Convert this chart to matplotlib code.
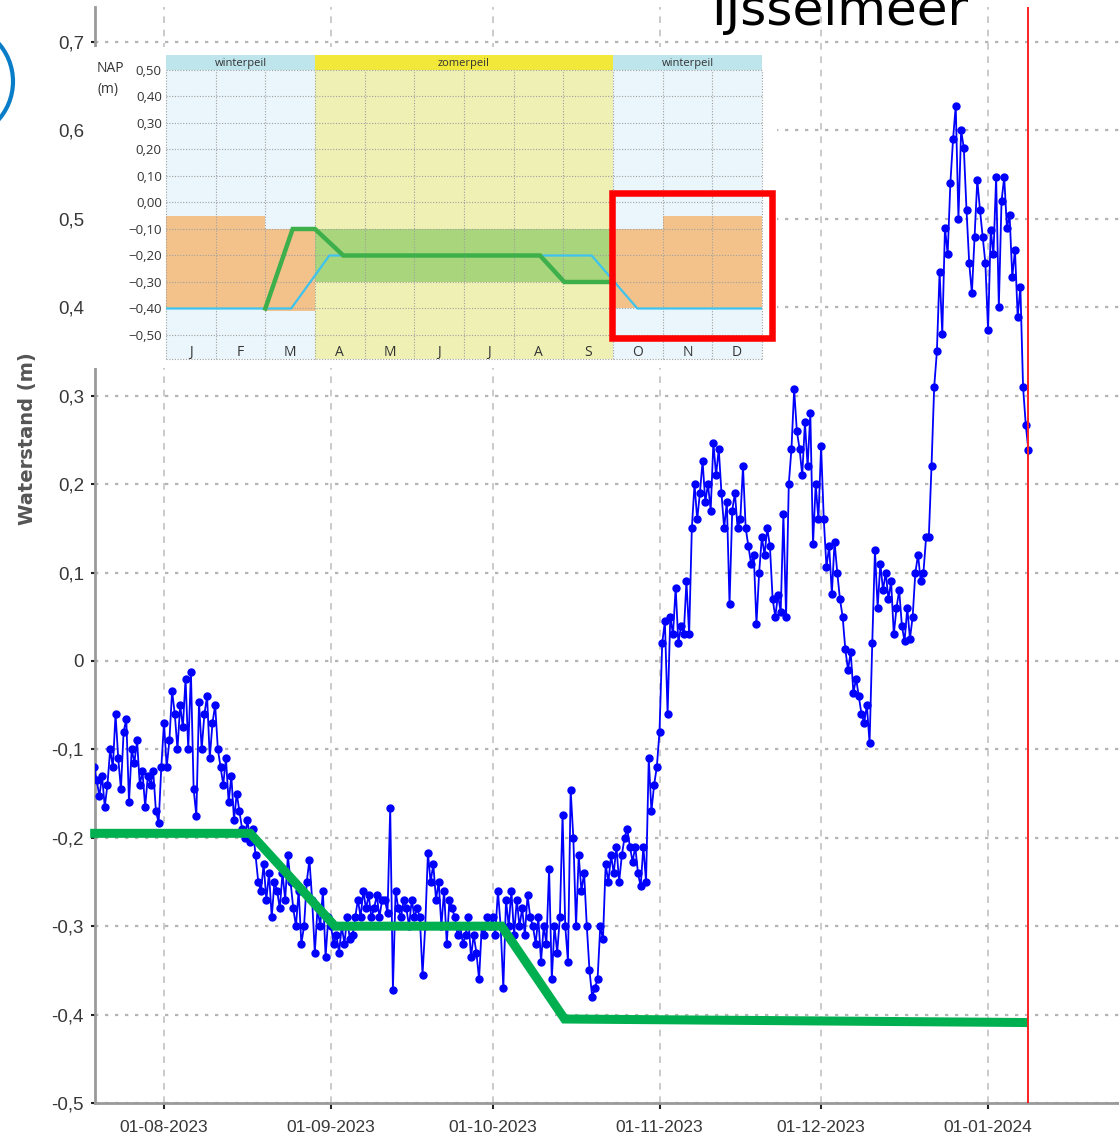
import numpy as np
import pandas as pd
import matplotlib
matplotlib.use('Agg')
import matplotlib.pyplot as plt
import matplotlib.dates as mdates
from matplotlib import font_manager as fm
from matplotlib.patches import Rectangle, Ellipse
from matplotlib.ticker import FuncFormatter

# smalle letter voor de aslabels als die er is, anders Liberation Sans
namen = {f.name for f in fm.fontManager.ttflist}
if 'Liberation Sans Narrow' in namen:
    AS_FONT, Y_SIZE, X_SIZE = 'Liberation Sans Narrow', 15, 14.5
else:
    AS_FONT, Y_SIZE, X_SIZE = 'Liberation Sans', 13.5, 12.5
plt.rcParams['font.family'] = [AS_FONT, 'DejaVu Sans']

W, H = 1119, 1143

# ---- gemeten waterstand IJsselmeer (m NAP), 2 waarden per dag vanaf 19-07-2023
jul = [-0.12, -0.135, -0.153, -0.13, -0.165, -0.14, -0.10, -0.12, -0.06, -0.11,
       -0.145, -0.08, -0.066, -0.16, -0.10, -0.115, -0.09, -0.14, -0.125, -0.165,
       -0.13, -0.14, -0.125, -0.17, -0.183, -0.12]
aug = [-0.07, -0.12, -0.09, -0.034, -0.06, -0.10, -0.05, -0.075, -0.02, -0.10,
       -0.013, -0.145, -0.175, -0.047, -0.10, -0.06, -0.04, -0.11, -0.07, -0.05,
       -0.10, -0.12, -0.14, -0.11, -0.16, -0.13, -0.18, -0.15, -0.17, -0.19,
       -0.20, -0.18, -0.205, -0.19, -0.22, -0.25, -0.26, -0.23, -0.27, -0.24,
       -0.29, -0.25, -0.26, -0.28, -0.24, -0.27, -0.22, -0.25, -0.28, -0.30,
       -0.26, -0.32, -0.30, -0.25, -0.225, -0.27, -0.33, -0.28, -0.30, -0.26,
       -0.335, -0.29]
sep = [-0.30, -0.32, -0.31, -0.33, -0.30, -0.32, -0.29, -0.315, -0.31, -0.29,
       -0.27, -0.29, -0.26, -0.28, -0.265, -0.29, -0.28, -0.265, -0.29, -0.27,
       -0.27, -0.285, -0.166, -0.372, -0.26, -0.28, -0.29, -0.27, -0.28, -0.30,
       -0.27, -0.29, -0.28, -0.29, -0.355, -0.30, -0.217, -0.25, -0.23, -0.27,
       -0.25, -0.30, -0.26, -0.32, -0.27, -0.28, -0.29, -0.31, -0.30, -0.32,
       -0.31, -0.29, -0.335, -0.31, -0.33, -0.36, -0.30, -0.31, -0.29, -0.30]
okt = [-0.29, -0.31, -0.26, -0.30, -0.37, -0.27, -0.30, -0.26, -0.31, -0.27,
       -0.30, -0.28, -0.31, -0.265, -0.29, -0.30, -0.32, -0.29, -0.34, -0.30,
       -0.32, -0.235, -0.36, -0.30, -0.33, -0.29, -0.174, -0.30, -0.34, -0.146,
       -0.20, -0.30, -0.22, -0.26, -0.24, -0.30, -0.35, -0.38, -0.37, -0.36,
       -0.30, -0.315, -0.23, -0.25, -0.22, -0.24, -0.21, -0.25, -0.22, -0.20,
       -0.19, -0.21, -0.227, -0.21, -0.24, -0.255, -0.21, -0.25, -0.11, -0.17,
       -0.14, -0.12]
nov = [-0.08, 0.02, 0.045, -0.06, 0.05, 0.03, 0.083, 0.02, 0.04, 0.03,
       0.09, 0.03, 0.15, 0.20, 0.16, 0.19, 0.226, 0.18, 0.20, 0.17,
       0.247, 0.21, 0.24, 0.19, 0.15, 0.18, 0.064, 0.17, 0.19, 0.15,
       0.16, 0.22, 0.15, 0.13, 0.11, 0.12, 0.042, 0.10, 0.14, 0.12,
       0.15, 0.13, 0.07, 0.05, 0.075, 0.055, 0.166, 0.05, 0.20, 0.24,
       0.307, 0.26, 0.24, 0.21, 0.27, 0.22, 0.28, 0.132, 0.20, 0.16]
dec = [0.243, 0.16, 0.106, 0.13, 0.076, 0.135, 0.10, 0.07, 0.05, 0.013,
       -0.01, 0.01, -0.036, -0.02, -0.04, -0.06, -0.07, -0.05, -0.093, 0.02,
       0.125, 0.06, 0.11, 0.08, 0.10, 0.07, 0.09, 0.03, 0.06, 0.08,
       0.04, 0.022, 0.06, 0.025, 0.05, 0.10, 0.12, 0.09, 0.10, 0.14,
       0.14, 0.22, 0.31, 0.35, 0.44, 0.37, 0.49, 0.46, 0.54, 0.59,
       0.628, 0.50, 0.60, 0.58, 0.51, 0.45, 0.416, 0.48, 0.544, 0.51,
       0.48, 0.45]
jan = [0.374, 0.487, 0.46, 0.547, 0.40, 0.52, 0.547, 0.49, 0.504, 0.434,
       0.465, 0.389, 0.423, 0.31, 0.267, 0.238]

level = jul + aug + sep + okt + nov + dec + jan
times = pd.date_range('2023-07-19 00:00', periods=len(level), freq='12h')

# streefpeil (groene lijn)
peil_t = pd.to_datetime(['2023-07-18 07:00', '2023-08-17 00:00', '2023-09-01 18:00',
                         '2023-10-02 16:00', '2023-10-14 09:00', '2024-01-08 10:00'])
peil_v = [-0.195, -0.195, -0.30, -0.30, -0.405, -0.409]
vandaag = pd.Timestamp('2024-01-08 10:00')

# ---- inzet: peilbesluit per maand
maanden = ['J', 'F', 'M', 'A', 'M', 'J', 'J', 'A', 'S', 'O', 'N', 'D']
seizoen_x0 = [0, 3, 9]
seizoen_x1 = [3, 9, 12]
seizoen_naam = ['winterpeil', 'zomerpeil', 'winterpeil']
oranje_x0 = [0, 2, 9, 10]
oranje_x1 = [2, 3, 10, 12]
oranje_lo = [-0.40, -0.41, -0.40, -0.40]
oranje_hi = [-0.05, -0.10, -0.10, -0.05]
groen_band = (3, 9, -0.30, -0.10)
inzet_groen_x = [2.0, 2.55, 3.0, 3.57, 7.53, 8.02, 9.0]
inzet_groen_y = [-0.40, -0.10, -0.10, -0.20, -0.20, -0.30, -0.30]
inzet_blauw_x = [0, 2.52, 3.29, 8.57, 9.49, 12]
inzet_blauw_y = [-0.40, -0.40, -0.20, -0.20, -0.40, -0.40]
inzet_niveaus = [0.5, 0.4, 0.3, 0.2, 0.1, 0.0, -0.1, -0.2, -0.3, -0.4, -0.5]


def box(x0, y0, x1, y1):
    # pixel box (top-left origin) -> figure fraction [l, b, w, h]
    return [x0 / W, 1 - y1 / H, (x1 - x0) / W, (y1 - y0) / H]


fig = plt.figure(figsize=(W / 100, H / 100), dpi=100)

# ---- hoofdgrafiek
ax = fig.add_axes(box(95, 7, 1119, 1103))
ax.plot(times, level, color='#0000ff', lw=1.3, marker='o', ms=5,
        mec='#0000ff', mfc='#0000ff', zorder=3)
ax.plot(peil_t, peil_v, color='#00b050', lw=6.5, solid_capstyle='butt',
        solid_joinstyle='miter', zorder=4, clip_on=False)
ax.axvline(vandaag, color='#ff2020', lw=1.4, zorder=5)

ax.set_xlim(pd.Timestamp('2023-07-19 04:30'), pd.Timestamp('2024-01-25 07:30'))
ax.set_ylim(-0.5, 0.7396)
ax.set_yticks(np.round(np.arange(-0.5, 0.71, 0.1), 1))


def komma(v, pos):
    if abs(v) < 1e-9:
        return '0'
    return f'{v:.1f}'.replace('.', ',')


ax.yaxis.set_major_formatter(FuncFormatter(komma))
ax.xaxis.set_major_locator(mdates.MonthLocator(bymonthday=1))
ax.xaxis.set_major_formatter(mdates.DateFormatter('%d-%m-%Y'))
ax.tick_params(axis='y', length=3, width=1.5, pad=5, labelsize=Y_SIZE,
               labelcolor='#383838', color='#222222')
ax.tick_params(axis='x', length=4, width=1.5, pad=8, labelsize=X_SIZE,
               labelcolor='#383838', color='#222222')
ax.grid(axis='y', linestyle=(0, (1.5, 3)), color='#b5b5b5', lw=1.6)
ax.grid(axis='x', linestyle=(0, (4, 4)), color='#c2c2c2', lw=1.2)
for s in ['top', 'right']:
    ax.spines[s].set_visible(False)
for s in ['left', 'bottom']:
    ax.spines[s].set_color('#9a9a9a')
    ax.spines[s].set_linewidth(2)

fig.text(28 / W, 1 - 439 / H, 'Waterstand (m)', rotation=90, ha='center',
         va='center', fontsize=14, fontweight='bold', color='#555555',
         family='DejaVu Sans')
fig.text(840 / W, 1 - 25 / H, 'IJsselmeer', ha='center', va='baseline',
         fontsize=36, color='black', family='DejaVu Sans', zorder=5)

# ---- inzet (witte achtergrond + peilbesluit)
fig.add_artist(Rectangle((88 / W, 1 - 368 / H), (777 - 88) / W, (368 - 47) / H,
                         transform=fig.transFigure, facecolor='white',
                         edgecolor='none', zorder=1))

ins = fig.add_axes(box(166, 55, 762, 359), zorder=2)
y_bot, y_top = -0.5906, 0.5566
ins.set_xlim(0, 12)
ins.set_ylim(y_bot, y_top)
achter = {'winterpeil': '#eaf6fb', 'zomerpeil': '#eef0b4'}
kop = {'winterpeil': '#bee4ec', 'zomerpeil': '#f1e83a'}
for x0, x1, naam in zip(seizoen_x0, seizoen_x1, seizoen_naam):
    ins.add_patch(Rectangle((x0, y_bot), x1 - x0, 0.5 - y_bot,
                            fc=achter[naam], ec='none', zorder=0.5))
    ins.add_patch(Rectangle((x0, 0.5), x1 - x0, y_top - 0.5,
                            fc=kop[naam], ec='none', zorder=0.5))
    ins.text((x0 + x1) / 2, (0.5 + y_top) / 2 - 0.003, naam, ha='center',
             va='center', fontsize=8, color='#333333', family='Open Sans')
for x0, x1, lo, hi in zip(oranje_x0, oranje_x1, oranje_lo, oranje_hi):
    ins.add_patch(Rectangle((x0, lo), x1 - x0, hi - lo, fc='#f3c28b',
                            ec='none', zorder=1))
gx0, gx1, glo, ghi = groen_band
ins.add_patch(Rectangle((gx0, glo), gx1 - gx0, ghi - glo, fc='#a9d57c',
                        ec='none', zorder=1))
ins.hlines(inzet_niveaus + [y_bot], 0, 12, colors='#a0a0a0',
           linestyles=(0, (1, 1.5)), lw=0.8, zorder=1.5, clip_on=False)
ins.vlines(range(13), y_bot, 0.5, colors='#a0a0a0',
           linestyles=(0, (1, 1.5)), lw=0.8, zorder=1.5, clip_on=False)
ins.plot(inzet_blauw_x, inzet_blauw_y, color='#3ec3ee', lw=1.6, zorder=3)
ins.plot(inzet_groen_x, inzet_groen_y, color='#3db04b', lw=3.2, zorder=3.5,
         solid_joinstyle='miter')
for i, m in enumerate(maanden):
    ins.text(i + 0.5, -0.565, m, ha='center', va='center', fontsize=10,
             color='#333333', family='Open Sans')
ins.set_xticks([])
ins.set_yticks(inzet_niveaus)
ins.set_yticklabels([f'{v:.2f}'.replace('.', ',').replace('-', '\u2212')
                     for v in inzet_niveaus], fontsize=9.5, family='Open Sans',
                    color='#333333')
ins.tick_params(axis='y', length=0, pad=3)
for s in ins.spines.values():
    s.set_visible(False)

fig.text(97 / W, 1 - 69 / H, 'NAP', ha='left', va='center', fontsize=10,
         family='Open Sans', color='#333333', zorder=3)
fig.text(97 / W, 1 - 89 / H, '(m)', ha='left', va='center', fontsize=10,
         family='Open Sans', color='#333333', zorder=3)

# rode kader en blauwe cirkel
fig.add_artist(Rectangle((611.5 / W, 1 - 338.5 / H), (772 - 611.5) / W,
                         (338.5 - 193.5) / H, transform=fig.transFigure,
                         fill=False, ec='#ff0000', lw=4.7, zorder=4,
                         joinstyle='miter'))
fig.add_artist(Ellipse((-44.7 / W, 1 - 81.5 / H), 2 * 57.7 / W, 2 * 57.7 / H,
                       transform=fig.transFigure, fill=False, ec='#0a7dc8',
                       lw=3, zorder=4))

fig.savefig('out.png', dpi=100)
